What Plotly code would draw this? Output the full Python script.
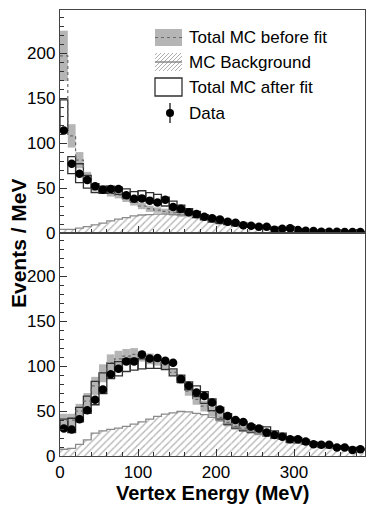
import numpy as np
import plotly.graph_objects as go
from plotly.subplots import make_subplots

# 10 MeV bins from 0 to 390 MeV
bin_width = 10
bin_centers = np.arange(5, 390, bin_width)
bin_edges = np.arange(0, 391, bin_width)

# ---- top panel ----
data_top = [114, 77, 66, 59, 52, 48, 49, 49, 42, 38, 38.5, 36, 34, 37, 29, 27, 23, 21, 18, 16.3,
            15, 12.6, 11.5, 8.5, 8.1, 7, 7, 3.5, 4.8, 5.2, 3.3, 2.6, 2.2, 1.5, 1.5, 1.5, 1, 1, 1]
before_top = [197, 108, 81, 62, 50, 47, 44, 42, 38, 34, 30, 27, 25.5, 24, 22.5, 21, 20, 19, 18, 17,
              15.5, 14, 12.5, 11, 9.5, 8.3, 7, 6, 5, 4.2, 3.5, 2.9, 2.4, 2, 1.7, 1.4, 1.2, 1.0, 0.9]
before_top_err = [28, 13, 9, 6, 4, 3.5, 3.5, 3.5, 3.5, 3.5, 3.5, 3.5, 3, 3, 3, 3, 2.5, 2.5, 2.5, 2,
                  2, 2, 1.5, 1.5, 1.5, 1.2, 1.2, 1, 1, 1, 1, 0.8, 0.8, 0.8, 0.7, 0.7, 0.6, 0.6, 0.6]
after_top = [131, 75.5, 66.5, 57, 50, 48, 48, 47, 44, 41, 42, 40, 38, 35, 31, 27, 23.5, 20.5, 17.5, 15,
             13, 11.5, 10, 9, 8, 7, 6, 5.2, 4.5, 4, 3.4, 2.9, 2.5, 2.1, 1.8, 1.6, 1.4, 1.2, 1.1]
after_top_err = [17, 9.5, 10.5, 7, 5, 4, 4, 4, 5, 5, 5, 5, 5, 5, 4.5, 4, 3.5, 3.5, 3, 3,
                 2.5, 2.2, 2, 1.8, 1.6, 1.5, 1.4, 1.2, 1.1, 1, 1, 0.9, 0.8, 0.8, 0.7, 0.7, 0.6, 0.6, 0.6]
bkg_top = [4, 4, 5.5, 7, 9, 11, 13.5, 15.5, 17, 19, 20, 20.5, 21, 21, 20.5, 20, 19.5, 18.5, 17.5, 16.5,
           15, 13.5, 12, 10.5, 9, 7.8, 6.6, 5.5, 4.6, 3.8, 3.2, 2.6, 2.2, 1.8, 1.5, 1.2, 1.0, 0.8, 0.7]

# ---- bottom panel ----
data_bot = [30.5, 29.5, 41, 51, 62.5, 74, 91, 97, 105, 105, 113, 108.5, 109, 106, 103.7, 85.5, 78, 70.7,
            66.7, 59.5, 51.8, 44.4, 40, 37.8, 32.8, 30.5, 26, 23.3, 21.5, 18.5, 18.5, 16, 13, 12.5,
            12.5, 9.5, 9.5, 6.7, 7.4]
before_bot = [40, 40, 50, 61, 78, 92, 104, 108, 111, 113, 111, 108, 105.5, 101, 93, 84, 72, 63, 55.5,
              49.5, 43, 37.5, 33, 31, 28.5, 26, 24, 22, 20, 18, 16, 14.5, 13, 11.5, 10.5, 9.5, 8.5, 7.5, 7]
before_bot_err = [7, 7, 8, 9, 10, 10, 9, 9, 8, 7, 6, 6, 5, 4, 3.5, 4, 5, 6, 6,
                  5.5, 5, 4.5, 4, 3.5, 3, 3, 2.5, 2.5, 2, 2, 2, 1.5, 1.5, 1.5, 1, 1, 1, 1, 1]
after_bot = [35, 34, 46, 57, 70, 81, 94.5, 97, 101, 102, 102.5, 102.5, 102, 99.7, 93, 86, 78, 72, 65,
             57, 47.5, 41, 36, 33, 30.5, 29, 27.5, 24, 22, 18, 17.5, 15.5, 13.5, 12, 11, 10, 9, 8, 7.5]
after_bot_err = [6, 8, 8, 9.5, 13, 11.5, 8.5, 8, 7, 6.5, 5.5, 5, 4.5, 3.5, 4, 4, 4.5, 6, 6.5,
                 6.5, 6.5, 6, 5, 5, 4.5, 4, 5, 4, 3.5, 3, 3, 2.5, 2, 2, 2, 1.5, 1.5, 1.5, 1]
bkg_bot = [7.5, 8.5, 13, 18, 25.5, 28, 29.5, 31, 33, 35.5, 38, 41, 44, 46.5, 48, 49.5, 49, 47.5, 46,
           43, 39.5, 36, 32.5, 29.5, 27, 25, 23, 21, 19, 17, 15, 13.5, 12, 10.5, 9.5, 8.5, 7.5, 6.5, 6]

FONT = "Liberation Sans, Arial, Helvetica, sans-serif"
BAND = "#b5b5b5"
BKG_LINE = "#8a8a8a"

fig = make_subplots(rows=2, cols=1, shared_xaxes=True, vertical_spacing=0)


def add_panel(row, data, before, before_err, after, after_err, bkg):
    before = np.array(before)
    before_err = np.array(before_err)
    after = np.array(after)
    after_err = np.array(after_err)
    bkg = np.array(bkg)

    # MC background, hatched
    fig.add_trace(go.Bar(x=bin_centers, y=bkg, width=bin_width,
                         marker=dict(color="white", line_width=0,
                                     pattern=dict(shape="/", fgcolor="#6e6e6e", bgcolor="white",
                                                  size=5, solidity=0.28))),
                  row=row, col=1)
    # total MC before fit, shaded error band
    fig.add_trace(go.Bar(x=bin_centers, y=2 * before_err, base=before - before_err, width=bin_width,
                         marker=dict(color=BAND, line_width=0)),
                  row=row, col=1)
    # total MC after fit, open boxes
    fig.add_trace(go.Bar(x=bin_centers, y=2 * after_err, base=after - after_err, width=bin_width,
                         marker=dict(color="rgba(0,0,0,0)", line=dict(color="#303030", width=1.3))),
                  row=row, col=1)
    # outline of background histogram
    fig.add_trace(go.Scatter(x=bin_edges, y=np.append(bkg, bkg[-1]), mode="lines", line_shape="hv",
                             line=dict(color=BKG_LINE, width=1.3)),
                  row=row, col=1)
    # central value before fit, dotted step
    fig.add_trace(go.Scatter(x=bin_edges, y=np.append(before, before[-1]), mode="lines", line_shape="hv",
                             line=dict(color="#6a6a6a", width=1.2, dash="dot")),
                  row=row, col=1)
    # data
    fig.add_trace(go.Scatter(x=bin_centers, y=data, mode="markers",
                             marker=dict(color="black", size=8.5),
                             error_y=dict(type="constant", value=2, color="black", thickness=1.2, width=0)),
                  row=row, col=1)


add_panel(1, data_top, before_top, before_top_err, after_top, after_top_err, bkg_top)
add_panel(2, data_bot, before_bot, before_bot_err, after_bot, after_bot_err, bkg_bot)

axis_common = dict(showline=True, linecolor="#444", linewidth=1.3, mirror=True,
                   showgrid=False, zeroline=False, ticks="inside", ticklen=7, tickwidth=1,
                   tickcolor="#333", tickfont=dict(family=FONT, size=17, color="black"))
fig.update_xaxes(range=[0, 391], dtick=100,
                 minor=dict(dtick=20, ticks="inside", ticklen=4, tickcolor="#333"), **axis_common)
fig.update_yaxes(range=[0, 248], dtick=50,
                 minor=dict(dtick=10, ticks="inside", ticklen=4, tickcolor="#333"), **axis_common)

# the page body adds an 8px offset, so the figure is laid out in screen pixels minus 8
OFF = 8
W, H = 358, 498
L, R, T, B = 60 - OFF, 365 - OFF, 10 - OFF, 456 - OFF


def px(x):
    # screen pixel -> paper x
    return (x - OFF - L) / (R - L)


def py(y):
    # screen pixel -> paper y
    return (B - (y - OFF)) / (B - T)


shapes = []
# legend symbols
shapes.append(dict(type="rect", x0=px(155), x1=px(182), y0=py(46), y1=py(29),
                   fillcolor=BAND, line_width=0))
shapes.append(dict(type="line", x0=px(155), x1=px(182), y0=py(37.5), y1=py(37.5),
                   line=dict(color="#6a6a6a", width=1.2, dash="dot")))
# hatched box: diagonal lines clipped to the box
hx0, hx1, hy0, hy1 = 155, 182, 53, 71
w, h = hx1 - hx0, hy1 - hy0
for c in range(-h + 2, w, 4):
    u0 = max(c, 0)
    t0 = u0 - c
    t1 = min(h, w - c)
    u1 = t1 + c
    shapes.append(dict(type="line", x0=px(hx0 + u0), y0=py(hy1 - t0), x1=px(hx0 + u1), y1=py(hy1 - t1),
                       line=dict(color="#9a9a9a", width=0.8)))
shapes.append(dict(type="line", x0=px(155), x1=px(182), y0=py(62), y1=py(62),
                   line=dict(color=BKG_LINE, width=1.5)))
shapes.append(dict(type="rect", x0=px(155), x1=px(182), y0=py(96), y1=py(78),
                   line=dict(color="#303030", width=1.3), fillcolor="rgba(0,0,0,0)"))
shapes.append(dict(type="line", x0=px(170), x1=px(170), y0=py(123), y1=py(103),
                   line=dict(color="black", width=1.2)))
shapes.append(dict(type="circle", x0=px(166), x1=px(174), y0=py(117), y1=py(109),
                   fillcolor="black", line_width=0))
for s in shapes:
    s.update(xref="paper", yref="paper")

annotations = []
for label, yy in [("Total MC before fit", 37.5), ("MC Background", 62),
                  ("Total MC after fit", 87), ("Data", 113)]:
    annotations.append(dict(text=label, x=px(187), y=py(yy), xref="paper", yref="paper",
                            xanchor="left", yanchor="middle", showarrow=False,
                            font=dict(family=FONT, size=17, color="black")))
annotations.append(dict(text="<b>Events / MeV</b>", x=px(18), y=py(243), xref="paper", yref="paper",
                        textangle=-90, xanchor="center", yanchor="middle", showarrow=False,
                        font=dict(family=FONT, size=21, color="black")))
annotations.append(dict(text="<b>Vertex Energy (MeV)</b>", x=px(212), y=py(493), xref="paper", yref="paper",
                        xanchor="center", yanchor="middle", showarrow=False,
                        font=dict(family=FONT, size=20, color="black")))

fig.update_layout(width=W, height=H, autosize=False,
                  margin=dict(l=L, r=W - R, t=T, b=H - B),
                  barmode="overlay", showlegend=False,
                  plot_bgcolor="white", paper_bgcolor="white",
                  font=dict(family=FONT, color="black"),
                  shapes=shapes, annotations=annotations)

fig.write_html("out.html")
